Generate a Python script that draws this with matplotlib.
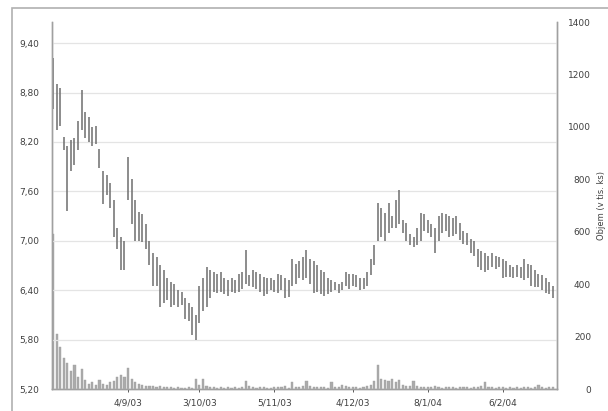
import numpy as np
import matplotlib
matplotlib.use("Agg")
import matplotlib.pyplot as plt
from matplotlib.patches import Rectangle
from matplotlib.ticker import FuncFormatter

# Daily high / low prices (one value per trading day)
highs = [9.22, 8.90, 8.85, 8.26, 8.15, 8.22, 8.25, 8.45, 8.83, 8.56,
         8.50, 8.38, 8.40, 8.12, 7.85, 7.80, 7.70, 7.50, 7.15, 7.05,
         7.00, 8.02, 7.75, 7.50, 7.35, 7.32, 7.20, 7.00, 6.85, 6.80,
         6.70, 6.65, 6.55, 6.50, 6.48, 6.40, 6.38, 6.30, 6.25, 6.20,
         6.10, 6.45, 6.55, 6.68, 6.65, 6.62, 6.60, 6.62, 6.55, 6.52,
         6.55, 6.52, 6.60, 6.62, 6.89, 6.58, 6.65, 6.62, 6.60, 6.56,
         6.55, 6.55, 6.52, 6.60, 6.58, 6.55, 6.52, 6.78, 6.72, 6.75,
         6.80, 6.89, 6.78, 6.75, 6.70, 6.65, 6.62, 6.55, 6.52, 6.50,
         6.48, 6.50, 6.62, 6.60, 6.60, 6.58, 6.55, 6.55, 6.62, 6.78,
         6.95, 7.46, 7.40, 7.34, 7.46, 7.30, 7.50, 7.62, 7.25, 7.22,
         7.08, 7.05, 7.15, 7.34, 7.32, 7.25, 7.20, 7.15, 7.30, 7.34,
         7.32, 7.30, 7.28, 7.30, 7.22, 7.12, 7.10, 7.02, 7.00, 6.90,
         6.88, 6.85, 6.82, 6.85, 6.82, 6.80, 6.78, 6.75, 6.70, 6.68,
         6.70, 6.68, 6.78, 6.72, 6.70, 6.65, 6.60, 6.58, 6.55, 6.50,
         6.45]
lows = [8.60, 8.35, 8.40, 8.10, 7.36, 7.85, 7.92, 8.10, 8.35, 8.25,
        8.20, 8.15, 8.18, 7.88, 7.45, 7.55, 7.40, 7.05, 6.90, 6.65,
        6.65, 7.50, 7.20, 7.00, 7.00, 6.98, 6.90, 6.70, 6.45, 6.45,
        6.20, 6.25, 6.28, 6.20, 6.22, 6.20, 6.22, 6.05, 6.02, 5.85,
        5.80, 6.00, 6.15, 6.20, 6.30, 6.38, 6.36, 6.38, 6.35, 6.33,
        6.38, 6.36, 6.38, 6.42, 6.48, 6.45, 6.44, 6.42, 6.38, 6.33,
        6.35, 6.40, 6.38, 6.37, 6.40, 6.30, 6.32, 6.45, 6.48, 6.55,
        6.52, 6.55, 6.48, 6.37, 6.38, 6.35, 6.33, 6.35, 6.38, 6.40,
        6.37, 6.40, 6.45, 6.42, 6.45, 6.44, 6.40, 6.42, 6.45, 6.58,
        6.70, 7.00, 7.05, 7.00, 7.10, 7.15, 7.15, 7.20, 7.09, 7.00,
        6.95, 6.92, 6.95, 7.00, 7.12, 7.09, 7.05, 6.85, 7.00, 7.10,
        7.12, 7.05, 7.06, 7.08, 7.01, 6.96, 6.95, 6.85, 6.82, 6.68,
        6.65, 6.62, 6.65, 6.68, 6.66, 6.68, 6.55, 6.56, 6.56, 6.55,
        6.56, 6.55, 6.52, 6.55, 6.45, 6.44, 6.44, 6.40, 6.37, 6.35,
        6.30]

# Daily volume (thousands)
volume = [590, 210, 160, 120, 100, 70, 90, 45, 75, 35,
          20, 25, 15, 35, 20, 15, 25, 30, 45, 55, 45,
          80, 40, 25, 20, 15, 12, 10, 12, 8, 10,
          8, 6, 8, 5, 6, 5, 4, 6, 5, 40,
          15, 40, 12, 8, 6, 5, 6, 5, 6, 5,
          6, 5, 8, 30, 10, 6, 5, 8, 6, 5,
          5, 6, 8, 6, 10, 5, 25, 8, 6, 10,
          30, 12, 8, 6, 8, 6, 5, 25, 8, 6,
          15, 10, 6, 8, 6, 5, 8, 10, 15, 30,
          90, 40, 35, 30, 40, 25, 35, 15, 10, 12,
          30, 10, 8, 6, 8, 6, 10, 6, 5, 6,
          8, 6, 5, 6, 8, 6, 5, 8, 6, 10,
          25, 8, 6, 5, 6, 8, 5, 6, 5, 6,
          5, 6, 8, 5, 6, 15, 6, 5, 8, 6]

tick_idx = [21, 41, 62, 84, 105, 126]
tick_labels = ["4/9/03", "3/10/03", "5/11/03", "4/12/03", "8/1/04", "6/2/04"]
price_ticks = [5.2, 5.8, 6.4, 7.0, 7.6, 8.2, 8.8, 9.4]
volume_ticks = [0, 200, 400, 600, 800, 1000, 1200, 1400]

days = np.arange(len(highs))

fig = plt.figure(figsize=(6.08, 4.11), dpi=100)
plt.rcParams['font.family'] = 'DejaVu Sans'

# gray frame around the chart
fig.patches.append(Rectangle((12 / 608, -0.1), 1.0, 1.0 - 8 / 411 + 0.1,
                             transform=fig.transFigure, fill=False,
                             edgecolor='#b0b0b0', linewidth=1.2))

ax = fig.add_axes([52 / 608, 22 / 411, 505 / 608, 367 / 411])
ax2 = ax.twinx()

# volume on the secondary axis, drawn behind the prices
ax2.bar(days, volume, width=0.6, color='#ababab', edgecolor='#a0a0a0', linewidth=0.3)
ax2.set_ylim(0, 1400)
ax2.set_yticks(volume_ticks)

# high-low bars
ax.vlines(days, lows, highs, color='#6e6e6e', linewidth=1.1)
ax.set_zorder(ax2.get_zorder() + 1)
ax.patch.set_visible(False)

ax.set_xlim(-0.3, 141.2)
ax.set_ylim(5.2, 9.657)
ax.set_yticks(price_ticks)
ax.yaxis.set_major_formatter(FuncFormatter(lambda v, p: f"{v:.2f}".replace(".", ",")))
ax.set_xticks(tick_idx)
ax.set_xticklabels(tick_labels)
ax.grid(axis='y', color='#e4e4e4', linewidth=0.9)
ax.set_axisbelow(True)

for a in (ax, ax2):
    a.spines['top'].set_visible(False)
    for s in ('left', 'right', 'bottom'):
        a.spines[s].set_color('#a0a0a0')
        a.spines[s].set_linewidth(1.0)
    a.tick_params(colors='#404040', labelsize=6.5, length=2, width=0.6)
ax.tick_params(axis='y', length=0, pad=9)
ax.tick_params(axis='x', pad=5)
ax2.tick_params(axis='y', length=0, pad=24.5)
for lbl in ax2.get_yticklabels():
    lbl.set_horizontalalignment('right')

ax2.set_ylabel("Objem (v tis. ks)", fontsize=6, color='#404040')
ax2.yaxis.set_label_coords((602 - 52) / 505, 0.5)
ax2.yaxis.label.set_verticalalignment('center')

fig.savefig("out.png", dpi=100)
